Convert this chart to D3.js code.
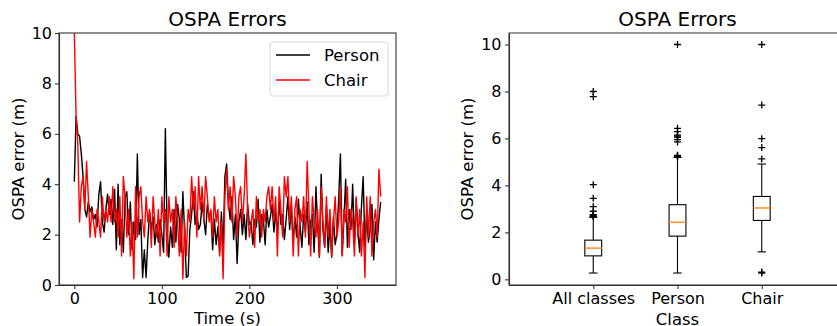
<!DOCTYPE html>
<html>
<head>
<meta charset="utf-8">
<script src="https://cdn.jsdelivr.net/npm/d3@7"></script>
<style>
  html, body { margin: 0; background: #fff; overflow: hidden; }
  svg { display: block; font-family: "DejaVu Sans", sans-serif; overflow: hidden; }
  .axis path, .axis line { stroke: #333; stroke-width: 1.1; }
  .axis text { font-size: 16px; fill: #000; font-family: "DejaVu Sans", sans-serif; }
</style>
</head>
<body>
<div id="chart"></div>
<script>
// time series, sampled every 2 s from 0 to 350 s
const sampleStep = 2;
const personErrors = [
  4.1, 6.7, 6.0, 5.9, 5.2, 4.3, 3.0, 2.7, 3.3, 2.9, 3.1, 2.6, 2.8, 2.3, 3.6, 4.1, 2.5, 2.1, 3.0, 3.6,
  2.8, 3.4, 2.4, 3.8, 1.4, 4.0, 1.6, 2.6, 1.3, 3.5, 3.7, 2.0, 3.3, 1.4, 2.5, 1.8, 5.2, 2.0, 2.6, 0.3,
  1.4, 0.3, 1.8, 2.9, 2.2, 2.7, 1.6, 2.4, 1.7, 2.6, 2.0, 1.3, 6.2, 2.2, 1.1, 2.3, 1.5, 3.0, 1.7, 3.2,
  2.6, 1.3, 3.7, 2.1, 0.3, 0.35, 2.2, 2.8, 3.7, 2.4, 2.9, 2.2, 2.4, 3.3, 2.6, 2.0, 3.2, 2.7, 2.9, 1.4,
  2.6, 1.6, 2.3, 1.3, 2.9, 1.4, 4.3, 4.8, 3.3, 2.6, 3.5, 1.8, 2.8, 0.85, 2.5, 3.0, 2.0, 2.8, 1.8, 3.2,
  2.4, 2.5, 1.6, 2.6, 2.3, 3.4, 1.7, 2.8, 2.6, 1.6, 3.0, 2.3, 2.7, 3.2, 2.1, 2.9, 2.0, 3.3, 2.4, 2.8,
  1.8, 2.6, 3.5, 2.2, 3.1, 1.7, 2.7, 1.9, 3.4, 2.3, 1.5, 2.8, 2.1, 3.3, 1.6, 2.5, 2.8, 1.3, 3.9, 2.4,
  1.1, 4.4, 2.2, 1.5, 3.1, 1.3, 2.4, 1.1, 2.7, 1.6, 2.0, 3.4, 5.2, 1.2, 2.6, 4.2, 1.5, 3.0, 2.2, 4.0,
  1.6, 3.4, 2.1, 1.3, 3.1, 4.3, 1.5, 2.8, 1.7, 2.2, 3.2, 1.0, 2.5, 1.7, 2.6, 3.3
];
const chairErrors = [
  10.0, 6.7, 5.6, 2.5, 3.9, 4.3, 3.0, 4.9, 3.5, 1.9, 3.0, 2.5, 1.9, 3.0, 2.5, 1.9, 3.5, 2.5, 3.0, 2.5,
  3.5, 2.5, 3.9, 2.5, 3.0, 1.9, 3.5, 1.15, 4.3, 3.5, 1.9, 3.0, 1.15, 2.5, 0.25, 3.9, 1.9, 3.5, 3.9, 2.5,
  1.9, 3.5, 2.5, 3.0, 1.5, 3.5, 2.5, 1.9, 3.0, 1.15, 3.5, 2.5, 3.0, 1.15, 3.5, 2.5, 3.0, 1.5, 3.5, 2.5,
  1.15, 3.0, 0.25, 2.5, 1.15, 3.0, 2.5, 4.3, 3.0, 3.9, 1.9, 4.3, 3.0, 3.9, 2.5, 4.3, 3.5, 2.5, 3.0, 1.9,
  3.5, 2.5, 3.0, 1.15, 2.5, 0.25, 3.5, 4.6, 3.0, 3.9, 2.5, 4.3, 3.5, 1.9, 3.5, 3.9, 2.5, 3.5, 5.2, 3.0,
  1.9, 2.5, 3.0, 1.5, 3.5, 2.5, 3.0, 1.9, 3.0, 2.5, 3.5, 3.9, 3.0, 3.9, 2.5, 3.5, 1.15, 3.9, 3.0, 1.9,
  4.3, 3.5, 4.3, 2.5, 3.5, 1.15, 3.0, 3.5, 1.15, 3.0, 2.5, 3.5, 1.9, 4.9, 3.0, 1.15, 3.5, 2.5, 1.9, 3.0,
  1.15, 3.9, 2.5, 1.5, 3.5, 1.9, 3.0, 1.15, 2.5, 3.5, 1.9, 2.5, 3.9, 1.15, 3.0, 2.5, 3.9, 1.5, 3.0, 2.5,
  1.15, 3.5, 1.9, 3.0, 1.15, 2.5, 0.3, 3.5, 1.9, 3.5, 1.15, 2.5, 3.0, 1.9, 4.6, 3.5
];
const seriesNames = ["Person", "Chair"];
const seriesColors = ["#000000", "#ff0000"];
const timeTicks = [0, 100, 200, 300];
const errorTicks = [0, 2, 4, 6, 8, 10];

// box plot summary per class
const boxClasses = ["All classes", "Person", "Chair"];
const boxWhiskerLow = [0.27, 0.27, 1.17];
const boxQ1 = [1.0, 1.84, 2.51];
const boxMedian = [1.33, 2.43, 3.04];
const boxQ3 = [1.67, 3.18, 3.53];
const boxWhiskerHigh = [2.64, 5.19, 4.91];
const boxOutliers = [
  [2.68, 2.72, 2.76, 2.9, 3.1, 3.45, 4.03, 7.78, 8.0],
  [5.22, 5.25, 5.28, 5.85, 5.95, 6.05, 6.1, 6.14, 6.29, 6.43, 10.0],
  [0.27, 0.31, 5.13, 5.61, 5.99, 7.42, 10.0]
];

const width = 837, height = 326;

let svg = d3.select("#chart").append("svg")
  .attr("width", width)
  .attr("height", height);

// ---------- left: time series ----------
let left = { x0: 59, x1: 396, y0: 33, y1: 285 };

let xTime = d3.scaleLinear().domain([-17.5, 367.5]).range([left.x0, left.x1]);
let yErr = d3.scaleLinear().domain([0, 10]).range([left.y1, left.y0]);

svg.append("defs").append("clipPath")
  .attr("id", "clipLeft")
  .append("rect")
  .attr("x", left.x0).attr("y", left.y0)
  .attr("width", left.x1 - left.x0).attr("height", left.y1 - left.y0);

let line = d3.line()
  .x((d, i) => xTime(i * sampleStep))
  .y(d => yErr(d));

[personErrors, chairErrors].forEach((values, k) => {
  svg.append("path")
    .datum(values)
    .attr("clip-path", "url(#clipLeft)")
    .attr("fill", "none")
    .attr("stroke", seriesColors[k])
    .attr("stroke-width", 1.4)
    .attr("stroke-linejoin", "round")
    .attr("d", line);
});

svg.append("g")
  .attr("class", "axis")
  .attr("transform", "translate(0," + left.y1 + ")")
  .call(d3.axisBottom(xTime).tickValues(timeTicks).tickSize(4).tickPadding(4).tickSizeOuter(0));

svg.append("g")
  .attr("class", "axis")
  .attr("transform", "translate(" + left.x0 + ",0)")
  .call(d3.axisLeft(yErr).tickValues(errorTicks).tickSize(4).tickPadding(3).tickSizeOuter(0));

svg.append("rect")
  .attr("x", left.x0).attr("y", left.y0)
  .attr("width", left.x1 - left.x0).attr("height", left.y1 - left.y0)
  .attr("fill", "none").attr("stroke", "#333").attr("stroke-width", 1.1);

svg.append("text")
  .attr("x", (left.x0 + left.x1) / 2).attr("y", 26)
  .attr("text-anchor", "middle").style("font-size", "20px")
  .text("OSPA Errors");

svg.append("text")
  .attr("x", (left.x0 + left.x1) / 2).attr("y", 324)
  .attr("text-anchor", "middle").style("font-size", "16.5px")
  .text("Time (s)");

svg.append("text")
  .attr("transform", "translate(24," + (left.y0 + left.y1) / 2 + ") rotate(-90)")
  .attr("text-anchor", "middle").style("font-size", "16.5px")
  .text("OSPA error (m)");

// legend
let legend = svg.append("g").attr("transform", "translate(270,42)");
legend.append("rect")
  .attr("width", 118).attr("height", 54).attr("rx", 3)
  .attr("fill", "#fff").attr("fill-opacity", 0.8)
  .attr("stroke", "#d6d6d6");
seriesNames.forEach((name, i) => {
  legend.append("line")
    .attr("x1", 6).attr("x2", 40)
    .attr("y1", 13 + i * 25).attr("y2", 13 + i * 25)
    .attr("stroke", seriesColors[i]).attr("stroke-width", 1.4);
  legend.append("text")
    .attr("x", 54).attr("y", 19 + i * 25)
    .style("font-size", "16.5px")
    .text(name);
});

// ---------- right: box plot ----------
let right = { x0: 509, x1: 846, y0: 33, y1: 285 };

let xBox = d3.scaleLinear().domain([0, 4]).range([right.x0, right.x1]);
let yBox = d3.scaleLinear().domain([-0.24, 10.49]).range([right.y1, right.y0]);
let boxW = xBox(0.2) - xBox(0);

svg.append("g")
  .attr("class", "axis")
  .attr("transform", "translate(0," + right.y1 + ")")
  .call(d3.axisBottom(xBox).tickValues([1, 2, 3]).tickFormat((d, i) => boxClasses[i])
    .tickSize(4).tickPadding(4).tickSizeOuter(0));

svg.append("g")
  .attr("class", "axis")
  .attr("transform", "translate(" + right.x0 + ",0)")
  .call(d3.axisLeft(yBox).tickValues(errorTicks).tickSize(4).tickPadding(3.5).tickSizeOuter(0));

svg.append("path")
  .attr("d", "M" + right.x1 + "," + right.y0 + "H" + right.x0 + "V" + right.y1 + "H" + right.x1)
  .attr("fill", "none").attr("stroke", "#333").attr("stroke-width", 1.1);

let boxes = svg.append("g");
boxClasses.forEach((name, i) => {
  let cx = xBox(i + 1);
  let g = boxes.append("g").attr("stroke", "#000").attr("stroke-width", 1.1).attr("fill", "none");
  // whiskers
  g.append("line").attr("x1", cx).attr("x2", cx).attr("y1", yBox(boxQ1[i])).attr("y2", yBox(boxWhiskerLow[i]));
  g.append("line").attr("x1", cx).attr("x2", cx).attr("y1", yBox(boxQ3[i])).attr("y2", yBox(boxWhiskerHigh[i]));
  // caps
  [boxWhiskerLow[i], boxWhiskerHigh[i]].forEach(v => {
    g.append("line").attr("x1", cx - boxW / 4).attr("x2", cx + boxW / 4).attr("y1", yBox(v)).attr("y2", yBox(v));
  });
  // box
  g.append("rect")
    .attr("x", cx - boxW / 2).attr("y", yBox(boxQ3[i]))
    .attr("width", boxW).attr("height", yBox(boxQ1[i]) - yBox(boxQ3[i]));
  // median
  g.append("line")
    .attr("x1", cx - boxW / 2).attr("x2", cx + boxW / 2)
    .attr("y1", yBox(boxMedian[i])).attr("y2", yBox(boxMedian[i]))
    .attr("stroke", "#ff8c2a").attr("stroke-width", 1.5);
  // outliers
  g.selectAll(".flier")
    .data(boxOutliers[i])
    .enter()
    .append("path")
    .attr("class", "flier")
    .attr("stroke-width", 1.3)
    .attr("d", v => "M" + (cx - 3.5) + "," + yBox(v) + "h7M" + cx + "," + (yBox(v) - 3.5) + "v7");
});

svg.append("text")
  .attr("x", (right.x0 + right.x1) / 2).attr("y", 26)
  .attr("text-anchor", "middle").style("font-size", "20px")
  .text("OSPA Errors");

svg.append("text")
  .attr("x", (right.x0 + right.x1) / 2).attr("y", 325)
  .attr("text-anchor", "middle").style("font-size", "16.5px")
  .text("Class");

svg.append("text")
  .attr("transform", "translate(473," + (right.y0 + right.y1) / 2 + ") rotate(-90)")
  .attr("text-anchor", "middle").style("font-size", "16.5px")
  .text("OSPA error (m)");
</script>
</body>
</html>
